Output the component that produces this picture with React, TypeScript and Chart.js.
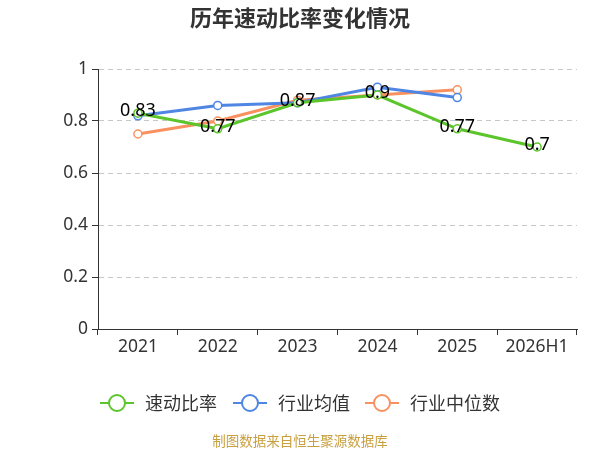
import { useEffect, useRef } from "react"
import { Chart, registerables } from "chart.js"

Chart.register(...registerables)

const categories = ["2021", "2022", "2023", "2024", "2025", "2026H1"]
const quickRatio = [0.83, 0.77, 0.87, 0.9, 0.77, 0.7]
const industryMean = [0.82, 0.86, 0.87, 0.93, 0.89, null]
const industryMedian = [0.75, 0.8, 0.88, 0.9, 0.92, null]
const yTicks = [0, 0.2, 0.4, 0.6, 0.8, 1]

const FONT = "'Noto Sans CJK SC', 'Noto Sans', sans-serif"
const NUM_FONT = "'Noto Sans', 'Noto Sans CJK SC', sans-serif"
const GREEN = "#5cc52c"
const BLUE = "#4f86e4"
const ORANGE = "#f8915f"

// labels on the green series + hand-drawn legend, title and source line
const overlay = {
  id: "overlay",
  afterDatasetsDraw(chart: Chart) {
    const ctx = chart.ctx
    const meta = chart.getDatasetMeta(0)
    ctx.save()
    ctx.fillStyle = "#000"
    ctx.font = `18px ${NUM_FONT}`
    ctx.textAlign = "center"
    ctx.textBaseline = "middle"
    meta.data.forEach((pt, i) => {
      ctx.fillText(String(quickRatio[i]), pt.x, pt.y - 2)
    })
    ctx.restore()
  },
  afterDraw(chart: Chart) {
    const ctx = chart.ctx
    ctx.save()
    ctx.fillStyle = "#333"
    ctx.font = `bold 22px ${FONT}`
    ctx.textAlign = "center"
    ctx.textBaseline = "middle"
    ctx.fillText("历年速动比率变化情况", 300, 18)

    const items = [
      { label: "速动比率", color: GREEN, x: 100 },
      { label: "行业均值", color: BLUE, x: 233 },
      { label: "行业中位数", color: ORANGE, x: 365 },
    ]
    const y = 403
    items.forEach((it) => {
      ctx.strokeStyle = it.color
      ctx.lineWidth = 2
      ctx.beginPath()
      ctx.moveTo(it.x, y)
      ctx.lineTo(it.x + 34, y)
      ctx.stroke()
      ctx.beginPath()
      ctx.arc(it.x + 17, y, 8, 0, Math.PI * 2)
      ctx.fillStyle = "#fff"
      ctx.fill()
      ctx.stroke()
      ctx.fillStyle = "#333"
      ctx.font = `18px ${FONT}`
      ctx.textAlign = "left"
      ctx.fillText(it.label, it.x + 45, y)
    })

    ctx.fillStyle = "#c9a040"
    ctx.font = `13.5px ${FONT}`
    ctx.textAlign = "center"
    ctx.fillText("制图数据来自恒生聚源数据库", 300, 441)
    ctx.restore()
  },
}

export default function App() {
  const canvasRef = useRef<HTMLCanvasElement>(null)
  const chartInstance = useRef<Chart | null>(null)

  useEffect(() => {
    document.body.style.margin = "0"
    if (!canvasRef.current) return
    if (chartInstance.current) chartInstance.current.destroy()

    const series = (label: string, data: (number | null)[], color: string) => ({
      label,
      data,
      borderColor: color,
      backgroundColor: "#fff",
      borderWidth: 3,
      pointRadius: 4,
      pointBorderWidth: 1.5,
      pointBackgroundColor: "#fff",
      pointBorderColor: color,
      tension: 0,
    })

    chartInstance.current = new Chart(canvasRef.current, {
      type: "line",
      data: {
        labels: categories,
        datasets: [
          series("速动比率", quickRatio, GREEN),
          series("行业均值", industryMean, BLUE),
          series("行业中位数", industryMedian, ORANGE),
        ],
      },
      options: {
        responsive: false,
        animation: false,
        layout: { padding: { top: 69, left: 0, right: 23, bottom: 0 } },
        plugins: {
          legend: { display: false },
          title: { display: false },
          tooltip: { enabled: false },
        },
        scales: {
          x: {
            offset: true,
            afterFit: (s: any) => {
              s.height = 121
            },
            grid: {
              display: true,
              drawOnChartArea: false,
              offset: true,
              tickLength: 6,
              color: "#333",
            },
            border: { display: true, color: "#333", width: 1 },
            ticks: { color: "#333", font: { size: 17.5, family: NUM_FONT }, padding: 2 },
          },
          y: {
            min: 0,
            max: 1,
            afterFit: (s: any) => {
              s.width = 98
            },
            afterBuildTicks: (s: any) => {
              s.ticks = yTicks.map((v) => ({ value: v }))
            },
            grid: {
              color: (c: any) => (c.tick && c.tick.value === 0 ? "transparent" : "#c8c8c8"),
              tickLength: 6,
              tickColor: "#333",
              tickBorderDash: [],
            },
            border: { display: true, color: "#333", width: 1, dash: [5, 4] },
            ticks: {
              color: "#333",
              font: { size: 17.5, family: NUM_FONT },
              padding: 4,
              callback: (v: any) => String(Number(v)),
            },
          },
        },
      },
      plugins: [overlay],
    })

    return () => {
      if (chartInstance.current) {
        chartInstance.current.destroy()
        chartInstance.current = null
      }
    }
  }, [])

  return <canvas ref={canvasRef} width={600} height={450} style={{ display: "block" }} />
}
